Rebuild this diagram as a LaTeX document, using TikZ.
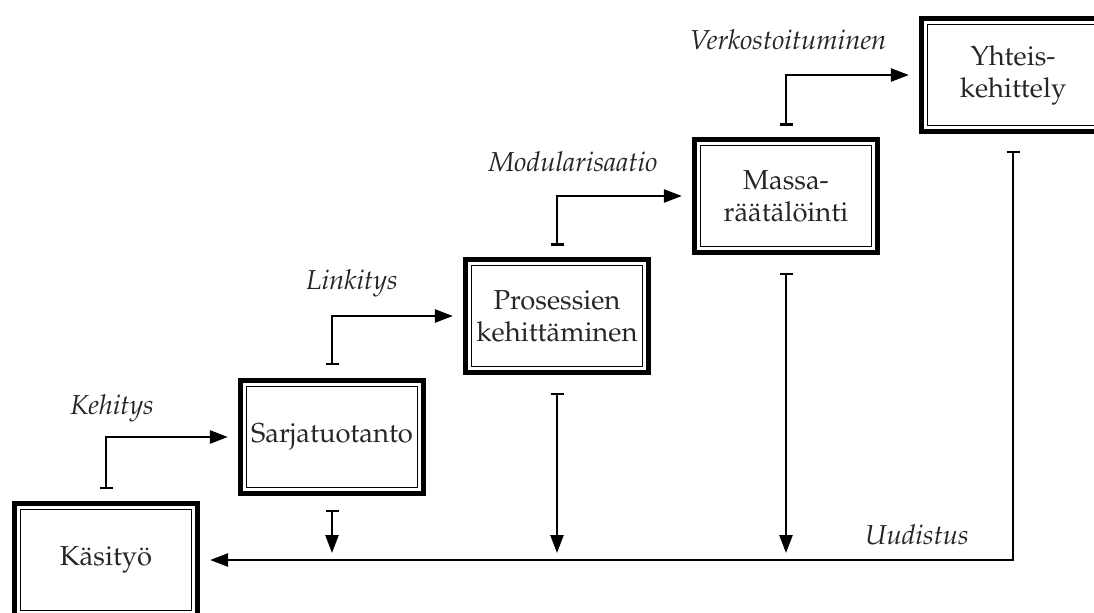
\documentclass[tikz,border=0pt]{standalone}
\usepackage[T1]{fontenc}
\usepackage{mathpazo}
\usetikzlibrary{positioning,arrows.meta}

\begin{document}
\begin{tikzpicture}[x=0.5pt, y=-0.5pt,
	stagen/.style={draw, line width=2.6pt, minimum width=91.5pt, minimum height=56.5pt, align=center, text=black!85, font=\fontsize{13.7}{16}\selectfont,
		path picture={\draw[line width=0.8pt] ([shift={(3pt,-3pt)}]path picture bounding box.north west) rectangle ([shift={(-3pt,3pt)}]path picture bounding box.south east);}},
	flown/.style={line width=1.25pt, {Bar[width=6.5pt]}-{Triangle[length=9pt,width=6.5pt]}},
	labeln/.style={text=black!85, font=\fontsize{13.7}{16}\selectfont\itshape}]

	\useasboundingbox (0,0) rectangle (1094,612);

	% stages
	\node (kasityo) [stagen] at (106,560) {Käsityö};
	\node (sarja) [stagen] at (332,437) {Sarjatuotanto};
	\node (prosessi) [stagen] at (557,316) {Prosessien\\kehittäminen};
	\node (massa) [stagen] at (786,196) {Massa-\\räätälöinti};
	\node (yhteis) [stagen] at (1013,75) {Yhteis-\\kehittely};

	% steps up
	\draw[flown, shorten <=5.75pt, shorten >=5pt] (kasityo.north) |- (sarja.west);
	\draw[flown, shorten <=6.25pt, shorten >=5pt] (sarja.north) |- (prosessi.west);
	\draw[flown, shorten <=5.5pt, shorten >=5pt] (prosessi.north) |- (massa.west);
	\draw[flown, shorten <=5.5pt, shorten >=5pt] (massa.north) |- (yhteis.west);

	\node (kehitys) [labeln] at (112,408) {Kehitys};
	\node (linkitys) [labeln] at (352,283) {Linkitys};
	\node (modular) [labeln] at (573,162) {Modularisaatio};
	\node (verkosto) [labeln] at (788,40) {Verkostoituminen};

	% back to the start
	\draw[flown, shorten <=8.25pt, shorten >=5pt] (yhteis.south) |- (kasityo.east);
	\draw[flown, shorten <=6.75pt, shorten >=3.5pt] (sarja.south) -- (sarja.south |- kasityo.east);
	\draw[flown, shorten <=8.75pt, shorten >=3.5pt] (prosessi.south) -- (prosessi.south |- kasityo.east);
	\draw[flown, shorten <=8.75pt, shorten >=3.5pt] (massa.south) -- (massa.south |- kasityo.east);

	\node (uudistus) [labeln] at (917,535) {Uudistus};

\end{tikzpicture}
\end{document}
